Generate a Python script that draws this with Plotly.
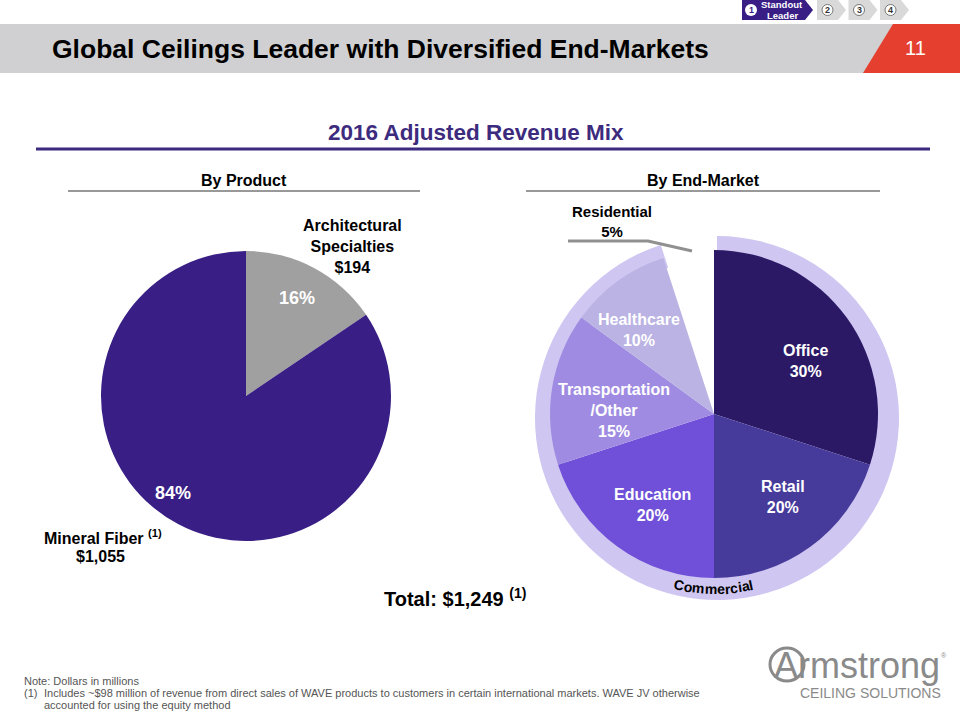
import math
import plotly.graph_objects as go

# ---------------- data ----------------
product_labels = ["Architectural Specialties", "Mineral Fiber"]
product_values = [194, 1055]
product_pcts = [16, 84]
total_revenue = 1249

market_labels = ["Office", "Retail", "Education", "Transportation/Other", "Healthcare", "Residential"]
market_display = ["Office", "Retail", "Education", "Transportation<br>/Other", "Healthcare", "Residential"]
market_pcts = [30, 20, 20, 15, 10, 5]

segment_labels = ["Commercial", "Residential"]
segment_pcts = [95, 5]

nav_steps = ["1", "2", "3", "4"]

# ---------------- helpers ----------------
W, H = 960, 720
FONT = "Arial, Liberation Sans, sans-serif"


def px(x):
    return x / W


def py(y):
    return 1 - y / H


def dom(cx, cy, r):
    return dict(x=[px(cx - r), px(cx + r)], y=[py(cy + r), py(cy - r)])


fig = go.Figure()

# left pie (by product)
fig.add_trace(go.Pie(
    labels=product_labels, values=product_values, sort=False, direction="clockwise",
    rotation=0, textinfo="none", hoverinfo="skip", showlegend=False,
    marker=dict(colors=["#a0a0a0", "#381e85"], line=dict(width=0)),
    domain=dom(246, 396, 145),
))

# outer ring (commercial vs residential)
ring_r = 182
fig.add_trace(go.Pie(
    labels=segment_labels, values=segment_pcts, sort=False, direction="clockwise",
    rotation=0, textinfo="none", hoverinfo="skip", showlegend=False, hole=158 / ring_r,
    marker=dict(colors=["#cfc6f1", "rgba(255,255,255,0)"], line=dict(width=0)),
    domain=dom(717, 418, ring_r),
))

# inner pie (by end-market)
fig.add_trace(go.Pie(
    labels=market_labels, values=market_pcts, sort=False, direction="clockwise",
    rotation=0, textinfo="none", hoverinfo="skip", showlegend=False,
    marker=dict(colors=["#2b1966", "#463a9b", "#7050d8", "#9f8ce2", "#bab3e3",
                        "rgba(255,255,255,0)"], line=dict(width=0)),
    domain=dom(714, 414, 164),
))

shapes = []
ann = []


def text(x, y, t, size, color="#000000", bold=True, xanchor="center", angle=0, family=FONT):
    ann.append(dict(
        x=px(x), y=py(y), xref="paper", yref="paper", text=(f"<b>{t}</b>" if bold else t),
        showarrow=False, xanchor=xanchor, yanchor="middle", textangle=angle,
        font=dict(family=family, size=size, color=color), align="center",
    ))


# header band
shapes.append(dict(type="rect", xref="paper", yref="paper", x0=0, x1=px(900), y0=py(73), y1=py(24),
                   fillcolor="#d0d0d2", line=dict(width=0), layer="below"))
shapes.append(dict(type="path", xref="paper", yref="paper",
                   path=f"M {px(893)} {py(24)} L {px(960)} {py(24)} L {px(960)} {py(73)} L {px(863)} {py(73)} Z",
                   fillcolor="#e5402f", line=dict(width=0)))
text(50, 49, "Global Ceilings Leader with Diversified End-Markets", 26.5, xanchor="left")
text(915, 48, "11", 20, color="#ffffff", bold=False)

# nav chevrons
shapes.append(dict(type="path", xref="paper", yref="paper",
                   path=f"M {px(742)} {py(0)} L {px(805)} {py(0)} L {px(813)} {py(10)} L {px(805)} {py(20)} L {px(742)} {py(20)} Z",
                   fillcolor="#381e85", line=dict(width=0)))
shapes.append(dict(type="circle", xref="paper", yref="paper", x0=px(745), x1=px(757), y0=py(16), y1=py(4),
                   fillcolor="#ffffff", line=dict(width=0)))
text(751, 10.5, nav_steps[0], 9, color="#381e85")
text(782, 5, "Standout", 9.5, color="#ffffff")
text(782, 15, "Leader", 9.5, color="#ffffff")
for i, s in enumerate(nav_steps[1:]):
    x0 = 817 + i * 31.5
    shapes.append(dict(type="path", xref="paper", yref="paper",
                       path=(f"M {px(x0)} {py(0)} L {px(x0 + 21)} {py(0)} L {px(x0 + 29)} {py(10)} "
                             f"L {px(x0 + 21)} {py(20)} L {px(x0)} {py(20)} Z"),
                       fillcolor="#d9d9d9", line=dict(width=0)))
    shapes.append(dict(type="circle", xref="paper", yref="paper", x0=px(x0 + 5), x1=px(x0 + 16),
                       y0=py(15.5), y1=py(4.5), fillcolor="#ffffff", line=dict(width=1, color="#777777")))
    text(x0 + 10.5, 10.5, s, 9, color="#333333")

# subtitle
text(476, 132, "2016 Adjusted Revenue Mix", 22.5, color="#3d2b7e")
shapes.append(dict(type="line", xref="paper", yref="paper", x0=px(36), x1=px(930), y0=py(149), y1=py(149),
                   line=dict(color="#3b2a80", width=3)))

text(244, 180, "By Product", 16)
shapes.append(dict(type="line", xref="paper", yref="paper", x0=px(68), x1=px(420), y0=py(191), y1=py(191),
                   line=dict(color="#333333", width=1)))
text(703, 180, "By End-Market", 16)
shapes.append(dict(type="line", xref="paper", yref="paper", x0=px(526), x1=px(880), y0=py(191), y1=py(191),
                   line=dict(color="#333333", width=1)))

# left pie labels
text(352, 246, "Architectural<br>Specialties<br>$" + f"{product_values[0]:,}", 16)
text(297, 298, f"{product_pcts[0]}%", 18, color="#ffffff")
text(173, 493, f"{product_pcts[1]}%", 18, color="#ffffff")
text(103, 537, "Mineral Fiber <sup>(1)</sup>", 16)
text(100, 556, "$" + f"{product_values[1]:,}", 16)
text(455, 597, "Total: $" + f"{total_revenue:,}" + " <sup>(1)</sup>", 20)

# right pie labels
pos = [(805, 361), (783, 497), (652, 505), (614, 410), (639, 330)]
for (x, y), lab, p in zip(pos, market_display[:5], market_pcts[:5]):
    text(x, y, f"{lab}<br>{p}%", 16, color="#ffffff")
text(612, 221, f"{market_display[5]}<br>{market_pcts[5]}%", 15)
shapes.append(dict(type="path", xref="paper", yref="paper",
                   path=f"M {px(568)} {py(241)} L {px(648)} {py(241)} L {px(692)} {py(251)}",
                   line=dict(color="#909090", width=3)))

# curved "Commercial" text along ring
word = segment_labels[0]
widths = {"C": 722, "o": 611, "m": 889, "e": 556, "r": 389, "c": 556, "i": 278, "a": 556, "l": 278}
fs = 14
cw = [widths.get(ch, 556) * fs / 1000 for ch in word]
total = sum(cw)
cx, cy, rt = 716, 418, 171
theta0 = math.radians(-0.8)
s = -total / 2
for ch, w in zip(word, cw):
    sc = s + w / 2
    th = theta0 + sc / rt
    x = cx + rt * math.sin(th)
    y = cy + rt * math.cos(th)
    text(x, y, ch, fs, angle=-math.degrees(th))
    s += w

# footer
FG = "#555555"
text(22, 681, "Note: Dollars in millions", 11, color=FG, bold=False, xanchor="left")
text(22, 693, "(1)", 11, color=FG, bold=False, xanchor="left")
text(42, 693, "Includes ~$98 million of revenue from direct sales of WAVE products to customers in certain "
              "international markets. WAVE JV otherwise", 11, color=FG, bold=False, xanchor="left")
text(42, 705, "accounted for using the equity method", 11, color=FG, bold=False, xanchor="left")

# logo
LG = "#8a8a8a"
shapes.append(dict(type="circle", xref="paper", yref="paper", x0=px(770), x1=px(804), y0=py(681), y1=py(648),
                   fillcolor="rgba(0,0,0,0)", line=dict(width=3, color=LG)))
text(772, 665, "Armstrong", 36, color=LG, bold=False, xanchor="left")
text(944, 655, "®", 7, color=LG, bold=False)
text(870, 693, "CEILING SOLUTIONS", 14, color=LG, bold=False)

fig.update_layout(
    width=W, height=H, margin=dict(l=0, r=0, t=0, b=0),
    paper_bgcolor="#ffffff", plot_bgcolor="#ffffff",
    shapes=shapes, annotations=ann, showlegend=False,
)
fig.write_html("out.html", config={"displayModeBar": False},
               post_script="document.body.style.margin='0px';")
